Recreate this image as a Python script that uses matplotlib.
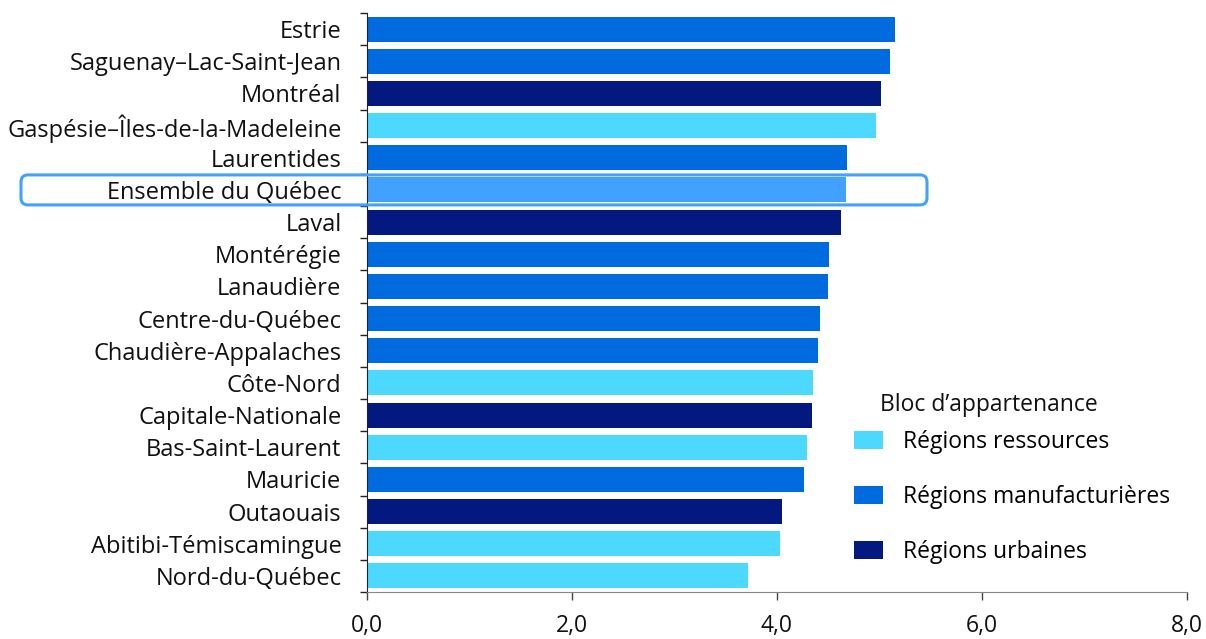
import matplotlib
matplotlib.use("Agg")
import matplotlib.pyplot as plt
from matplotlib.patches import FancyBboxPatch, Patch
from matplotlib.ticker import FixedLocator, FuncFormatter

plt.rcParams['font.family'] = ['Open Sans', 'DejaVu Sans']

regions = [
    "Estrie", "Saguenay–Lac-Saint-Jean", "Montréal", "Gaspésie–Îles-de-la-Madeleine",
    "Laurentides", "Ensemble du Québec", "Laval", "Montérégie", "Lanaudière",
    "Centre-du-Québec", "Chaudière-Appalaches", "Côte-Nord", "Capitale-Nationale",
    "Bas-Saint-Laurent", "Mauricie", "Outaouais", "Abitibi-Témiscamingue", "Nord-du-Québec",
]
values = [5.16, 5.11, 5.02, 4.97, 4.69, 4.68, 4.63, 4.51, 4.50,
          4.42, 4.40, 4.36, 4.35, 4.30, 4.27, 4.05, 4.03, 3.72]
blocs = ["M", "M", "U", "R", "M", "Q", "U", "M", "M",
         "M", "M", "R", "U", "R", "M", "U", "R", "R"]

bloc_colors = {"R": "#4DD8FF", "M": "#006BDF", "U": "#03197F", "Q": "#42A1FF"}
legend_title = "Bloc d’appartenance"
legend_labels = [("R", "Régions ressources"),
                 ("M", "Régions manufacturières"),
                 ("U", "Régions urbaines")]
x_ticks = [0, 2, 4, 6, 8]

FS = 16.5
W, H = 1206, 639

fig = plt.figure(figsize=(W / 100, H / 100), dpi=100)
ax = fig.add_axes([366.5 / W, 1 - 592 / H, 820 / W, 579 / H])

n = len(regions)
ypos = list(range(n))
ax.barh(ypos, values, height=0.78, color=[bloc_colors[b] for b in blocs],
        edgecolor="none", zorder=2)

ax.set_ylim(n - 0.5, -0.5)
ax.set_xlim(0, 8)

ax.set_yticks(ypos)
ax.set_yticklabels(regions, fontsize=17, color="#111111")
ax.yaxis.set_minor_locator(FixedLocator([i - 0.5 for i in range(n + 1)]))
ax.tick_params(axis="y", which="major", length=0, pad=18)
ax.tick_params(axis="y", which="minor", length=5, width=1, color="#222222")

ax.set_xticks(x_ticks)
ax.xaxis.set_major_formatter(FuncFormatter(lambda v, p: f"{v:.1f}".replace(".", ",")))
ax.tick_params(axis="x", length=6, width=1, color="#444444", labelsize=FS,
               pad=10, labelcolor="#111111")

for side in ["top", "right"]:
    ax.spines[side].set_visible(False)
ax.spines["left"].set_color("#222222")
ax.spines["bottom"].set_color("#888888")

# Highlight frame around the provincial total row
fig.canvas.draw()
qi = regions.index("Ensemble du Québec")
_, yc = ax.transData.transform((0, qi))
half_h = 15
box = FancyBboxPatch((21, yc - half_h), 906, 2 * half_h,
                     boxstyle="round,pad=0,rounding_size=7",
                     transform=None, fill=False, edgecolor="#42A1FF",
                     linewidth=2.2, clip_on=False, zorder=5)
fig.patches.append(box)

# Legend: title as separate text, entries below
fig.text(880 / W, 1 - 405 / H, legend_title, fontsize=FS, color="#111111",
         ha="left", va="center")
handles = [Patch(facecolor=bloc_colors[k], edgecolor="none") for k, _ in legend_labels]
fig.legend(handles, [lab for _, lab in legend_labels],
           loc="center left", bbox_to_anchor=(854 / W, 1 - 497 / H), frameon=False,
           fontsize=FS, handlelength=1.27, handleheight=0.87,
           handletextpad=0.87, labelspacing=1.35, borderpad=0, borderaxespad=0)

fig.savefig("out.png", dpi=100)
